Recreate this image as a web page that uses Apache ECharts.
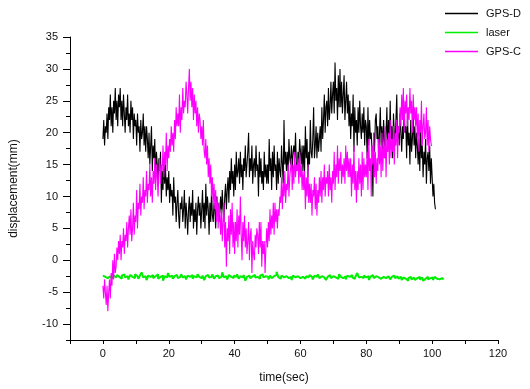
<!DOCTYPE html>
<html>
<head>
<meta charset="utf-8">
<script src="https://cdn.jsdelivr.net/npm/echarts@6/dist/echarts.min.js"></script>
<style>html,body{margin:0;padding:0;background:#fff;}#chart{width:530px;height:389px;}</style>
</head>
<body>
<div id="chart"></div>
<script>
// sample spacing (sec) of the recorded series
var gpsStep = 0.25;
var laserStep = 0.5;
var seriesNames = ['GPS-D', 'laser', 'GPS-C'];
var xTickLabels = [0, 20, 40, 60, 80, 100, 120];
var yTickLabels = [-10, -5, 0, 5, 10, 15, 20, 25, 30, 35];
var yMinorTicks = [-12.5, -7.5, -2.5, 2.5, 7.5, 12.5, 17.5, 22.5, 27.5, 32.5];

// GPS-D displacement (mm), t = 0 .. 101 s, one row per second
var gpsD = [
  19,22,18,21, 20,23,19,24, 22,26,21,24, 20,25,23,27, 22,25,21,26,
  24,27,22,25, 21,26,23,20, 24,22,26,21, 23,20,25,22, 24,19,23,21,
  22,18,23,20, 21,17,22,19, 20,23,18,21, 17,21,19,16, 20,15,18,21,
  14,18,16,19, 13,17,15,12, 16,14,17,9,  14,11,16,12, 15,10,13,11,
  14,9,12,10,  11,7,13,9,   10,6,9,11,   7,5,9,8,     10,6,8,11,
  5,9,7,4,     8,10,6,9,    7,11,5,8,    6,9,4,8,     10,7,9,5,
  8,11,6,9,    5,12,7,10,   8,4,9,6,     11,7,6,9,    8,5,10,7,
  9,6,8,10,    7,11,8,6,    10,12,8,11,  13,9,14,11,  16,12,14,10,
  15,11,17,13, 14,16,12,17, 13,15,11,16, 14,18,13,15, 17,20,13,16,
  14,18,12,15, 16,13,18,14, 15,10,17,13, 16,12,14,11, 17,13,15,12,
  15,12,19,14, 16,11,17,13, 18,14,15,11, 17,12,16,14, 13,18,15,12,
  22,15,17,14, 17,14,19,16, 15,18,14,17, 18,16,20,15, 14,17,15,19,
  17,15,18,14, 18,14,21,16, 19,13,17,15, 22,17,16,19, 24,16,18,21,
  16,20,17,19, 21,17,24,19, 22,26,20,24, 25,21,27,22, 24,28,23,26,
  28,23,31,25, 27,22,29,24, 30,24,28,23, 26,29,22,25, 28,23,26,21,
  25,19,23,21, 26,17,24,20, 22,18,24,20, 25,21,19,23, 20,24,18,22,
  21,16,24,18, 22,19,20,17, 10,20,17,22, 23,19,21,16, 20,24,18,21,
  17,22,19,16, 20,24,17,22, 18,25,19,21, 16,23,20,18, 22,26,19,21,
  18,23,20,17, 21,19,24,20, 21,16,23,18, 20,15,22,17, 19,23,18,21,
  16,20,18,15, 19,14,21,16, 18,13,17,15, 19,12,16,17, 14,18,12,16,
  13,10,12,9,
  8
];

// laser displacement (mm), t = 0 .. 103.5 s
var laser = [
  -2.4,-2.6,-2.3,-2.8,-2.5,-2.2,-2.9,-2.4,-2.7,-2.3,
  -2.6,-2.9,-2.4,-2.2,-2.7,-2.5,-3.0,-2.3,-2.6,-2.8,
  -2.2,-2.5,-2.9,-2.4,-1.9,-2.7,-2.5,-3.1,-2.4,-2.6,
  -2.3,-2.8,-2.5,-2.2,-2.9,-2.6,-2.4,-3.2,-2.5,-2.7,
  -2.0,-2.6,-2.4,-2.9,-2.5,-2.3,-2.8,-2.6,-2.2,-2.7,
  -2.5,-3.0,-2.4,-2.6,-2.3,-2.9,-2.5,-2.7,-2.2,-2.6,
  -2.8,-2.4,-3.1,-2.5,-2.3,-2.7,-2.6,-2.2,-2.9,-2.5,
  -2.4,-2.8,-2.6,-1.9,-2.7,-2.5,-3.0,-2.3,-2.6,-2.8,
  -2.4,-2.6,-2.2,-2.9,-2.5,-2.7,-2.3,-3.2,-2.6,-2.4,
  -2.8,-2.5,-2.3,-2.7,-2.6,-2.9,-2.4,-2.2,-2.7,-2.5,
  -2.6,-3.0,-2.4,-2.8,-2.5,-2.3,-1.8,-2.6,-2.9,-2.4,
  -2.7,-2.5,-2.3,-2.8,-2.6,-3.1,-2.4,-2.7,-2.5,-2.2,
  -2.8,-2.6,-2.4,-2.9,-2.5,-2.7,-2.3,-2.6,-3.0,-2.4,
  -2.6,-2.2,-2.8,-2.5,-2.7,-2.4,-3.1,-2.6,-2.3,-2.8,
  -2.5,-2.7,-2.4,-2.9,-2.2,-2.6,-2.8,-2.5,-3.0,-2.4,
  -2.6,-2.3,-2.7,-2.9,-2.5,-2.0,-2.7,-2.6,-2.8,-2.4,
  -2.7,-2.5,-3.1,-2.6,-2.3,-2.8,-2.5,-2.7,-2.4,-2.9,
  -2.6,-2.3,-2.8,-2.5,-2.7,-3.0,-2.6,-2.4,-2.8,-2.5,
  -2.9,-2.6,-3.1,-2.7,-2.9,-3.2,-2.8,-2.6,-3.0,-2.7,
  -3.1,-2.8,-2.6,-3.0,-2.7,-3.2,-2.9,-2.6,-3.0,-2.8,
  -2.7,-3.1,-2.6,-2.9,-3.0,-2.7,-2.8,-3.0
];

// GPS-C displacement (mm), t = 0 .. 100 s, one group per second
var gpsC = [
  -4,-6,-3,-5, -7,-4,-8,-5, -3,-6,-2,-4, 0,-3,1,-2,   -1,2,0,3,
  1,4,0,3,     2,5,1,4,     3,6,2,5,     7,4,8,3,     5,9,4,7,
  6,11,5,9,    8,12,7,10,   9,13,8,11,   10,14,9,12,  11,15,10,13,
  9,14,12,16,  11,15,13,10, 14,16,12,15, 14,18,13,17, 15,20,14,18,
  16,19,17,21, 18,20,17,22, 19,24,21,23, 21,26,20,24, 22,27,23,25,
  24,28,26,23, 27,30,25,28, 24,27,22,26, 23,25,21,24, 20,23,22,19,
  21,18,22,17, 16,19,15,18, 13,16,12,15, 10,13,9,12,  8,11,6,10,
  5,9,7,4,     8,3,6,9,     2,6,-1,5,    3,7,1,8,     4,9,2,6,
  1,6,3,8,     2,7,4,10,    4,0,6,3,     7,2,5,1,     3,6,0,4,
  5,-2,3,1,    0,4,2,5,     4,1,6,2,     6,-1,3,1,    3,-2,2,5,
  2,6,3,8,     4,7,5,9,     4,9,6,8,     5,8,7,10,    9,13,8,12,
  10,14,9,12,  11,15,10,13, 13,16,11,15, 12,17,13,15, 14,16,12,17,
  13,15,11,14, 11,14,8,13,  10,15,9,12,  9,12,7,11,   10,13,8,12,
  7,11,9,13,   10,14,9,13,  11,15,10,13, 12,14,10,15, 11,13,9,14,
  12,17,11,15, 13,18,12,16, 14,17,12,15, 13,16,12,18, 14,17,13,16,
  13,16,10,15, 12,18,11,14, 9,14,11,16,  12,15,10,17, 11,16,13,15,
  13,17,11,19, 14,16,10,18, 15,20,13,17, 12,16,14,19, 15,18,13,20,
  14,18,16,21, 13,19,17,20, 15,22,16,19, 17,21,15,20, 18,22,16,21,
  20,24,21,26, 22,27,20,25, 23,26,21,24, 22,27,23,25, 20,26,22,24,
  21,24,19,23, 17,22,20,25, 18,21,23,19, 20,24,18,22, 17,21,19,18,
  18
];

function toPairs(values, step) {
  return values.map(function (v, i) { return [i * step, v]; });
}

var font = "'Liberation Sans', Arial, sans-serif";
var chart = echarts.init(document.getElementById('chart'), null, { renderer: 'canvas' });
chart.setOption({
  animation: false,
  backgroundColor: '#ffffff',
  textStyle: { fontFamily: font },
  legend: {
    orient: 'vertical',
    left: 445,
    top: 7,
    padding: 0,
    icon: 'rect',
    itemWidth: 33,
    itemHeight: 1.5,
    itemGap: 6,
    data: seriesNames,
    textStyle: { fontSize: 11, color: '#111', fontFamily: font, lineHeight: 13, padding: [0, 0, 0, 3] }
  },
  grid: { left: 67, right: 32, top: 37, bottom: 49, containLabel: false },
  xAxis: {
    type: 'value',
    min: -10,
    max: 120,
    interval: 10,
    name: 'time(sec)',
    nameLocation: 'middle',
    nameGap: 32,
    nameTextStyle: { fontSize: 12, color: '#111', fontFamily: font },
    axisLine: { show: true, onZero: false, lineStyle: { color: '#000', width: 1 } },
    axisTick: { show: true, inside: false, length: 4, lineStyle: { color: '#000' } },
    axisLabel: { customValues: xTickLabels, fontSize: 11, color: '#111', margin: 8 },
    splitLine: { show: false }
  },
  yAxis: [{
    type: 'value',
    min: -12.5,
    max: 35,
    interval: 2.5,
    name: 'displacement(mm)',
    nameLocation: 'middle',
    nameGap: 50,
    nameTextStyle: { fontSize: 12, color: '#111', fontFamily: font },
    axisLine: { show: true, onZero: false, lineStyle: { color: '#000', width: 1 } },
    axisTick: { show: true, inside: false, length: 7, customValues: yTickLabels, lineStyle: { color: '#000' } },
    axisLabel: { customValues: yTickLabels, fontSize: 11, color: '#111', margin: 12 },
    splitLine: { show: false }
  }, {
    type: 'value',
    position: 'left',
    min: -12.5,
    max: 35,
    interval: 2.5,
    axisLine: { show: false, onZero: false },
    axisTick: { show: true, inside: false, length: 4, customValues: yMinorTicks, lineStyle: { color: '#000' } },
    axisLabel: { show: false },
    splitLine: { show: false }
  }],
  series: [{
    name: seriesNames[0],
    type: 'line',
    data: toPairs(gpsD, gpsStep),
    symbol: 'none',
    lineStyle: { color: '#000000', width: 1.1 },
    itemStyle: { color: '#000000' }
  }, {
    name: seriesNames[1],
    type: 'line',
    step: 'middle',
    data: toPairs(laser, laserStep),
    symbol: 'none',
    lineStyle: { color: '#00ee00', width: 2 },
    itemStyle: { color: '#00ee00' }
  }, {
    name: seriesNames[2],
    type: 'line',
    data: toPairs(gpsC, gpsStep),
    symbol: 'none',
    lineStyle: { color: '#ff00ff', width: 1.1 },
    itemStyle: { color: '#ff00ff' }
  }]
});
</script>
</body>
</html>
